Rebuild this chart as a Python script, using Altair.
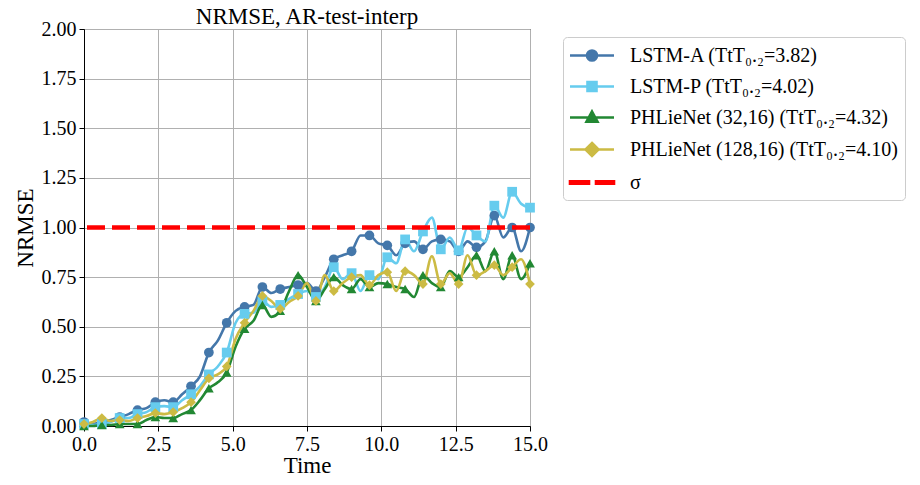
import altair as alt
import pandas as pd

# ---------------- data ----------------
times = [0.0, 0.3, 0.6, 0.9, 1.2, 1.5, 1.8, 2.1, 2.4, 2.7, 3.0, 3.3, 3.6, 3.9, 4.2, 4.5,
         4.8, 5.1, 5.4, 5.7, 6.0, 6.3, 6.6, 6.9, 7.2, 7.5, 7.8, 8.1, 8.4, 8.7, 9.0, 9.3,
         9.6, 9.9, 10.2, 10.5, 10.8, 11.1, 11.4, 11.7, 12.0, 12.3, 12.6, 12.9, 13.2,
         13.5, 13.8, 14.1, 14.4, 14.7, 15.0]

lstm_a = [0.02, 0.01, 0.02, 0.03, 0.045, 0.06, 0.08, 0.09, 0.12, 0.13, 0.12, 0.16, 0.20,
          0.25, 0.37, 0.43, 0.52, 0.58, 0.60, 0.61, 0.70, 0.67, 0.69, 0.70, 0.71, 0.72,
          0.68, 0.75, 0.84, 0.86, 0.88, 0.96, 0.96, 0.92, 0.91, 0.86, 0.92, 0.93, 0.89,
          0.93, 0.94, 0.93, 0.88, 0.93, 0.90, 0.93, 1.06, 0.95, 1.00, 0.88, 1.00]

lstm_p = [0.01, 0.005, 0.01, 0.02, 0.04, 0.04, 0.06, 0.07, 0.095, 0.10, 0.095, 0.13, 0.16,
          0.20, 0.26, 0.30, 0.37, 0.52, 0.565, 0.57, 0.63, 0.60, 0.61, 0.64, 0.665, 0.68,
          0.65, 0.70, 0.80, 0.74, 0.77, 0.68, 0.76, 0.74, 0.85, 0.82, 0.94, 0.88, 0.98,
          1.05, 0.89, 0.95, 0.885, 1.00, 0.96, 0.93, 1.11, 1.05, 1.18, 1.12, 1.10]

phlie_32 = [0.0, 0.0, 0.005, 0.005, 0.01, 0.01, 0.01, 0.03, 0.045, 0.04, 0.04, 0.06, 0.08,
            0.13, 0.19, 0.22, 0.27, 0.40, 0.49, 0.53, 0.61, 0.55, 0.58, 0.68, 0.76, 0.70,
            0.63, 0.69, 0.75, 0.71, 0.69, 0.74, 0.70, 0.72, 0.715, 0.70, 0.69, 0.65, 0.76,
            0.72, 0.70, 0.78, 0.75, 0.80, 0.86, 0.78, 0.88, 0.74, 0.86, 0.74, 0.82]

phlie_128 = [0.01, 0.02, 0.04, 0.025, 0.03, 0.025, 0.04, 0.05, 0.065, 0.06, 0.07, 0.09, 0.12,
             0.18, 0.24, 0.26, 0.30, 0.44, 0.52, 0.58, 0.655, 0.63, 0.59, 0.625, 0.655, 0.72,
             0.63, 0.76, 0.68, 0.72, 0.75, 0.76, 0.71, 0.76, 0.775, 0.68, 0.78, 0.76, 0.715,
             0.855, 0.715, 0.77, 0.715, 0.86, 0.76, 0.78, 0.81, 0.76, 0.80, 0.84, 0.715]

series_names = [
    "LSTM-A (TtT\u2080.\u2082=3.82)",
    "LSTM-P (TtT\u2080.\u2082=4.02)",
    "PHLieNet (32,16) (TtT\u2080.\u2082=4.32)",
    "PHLieNet (128,16) (TtT\u2080.\u2082=4.10)",
]
sigma_name = "\u03c3"
sigma_level = [1.0]

colors = ["#4477AA", "#66CCEE", "#228833", "#CCBB44"]
sigma_color = "#FF0000"
marker_shapes = ["circle", "square", "triangle-up", "diamond"]
marker_sizes = [95, 95, 115, 140]

# legend glyphs (10 px per unit): a 44 px line segment with the marker on top
legend_paths = [
    "M-1.15,0L3.25,0M1.55,0A0.5,0.5,0,1,1,0.55,0A0.5,0.5,0,1,1,1.55,0Z",
    "M-1.15,0L3.25,0M0.6,-0.45L1.5,-0.45L1.5,0.45L0.6,0.45Z",
    "M-1.15,0L3.25,0M1.05,-0.6L1.6,0.42L0.5,0.42Z",
    "M-1.15,0L3.25,0M1.05,-0.65L1.7,0L1.05,0.65L0.4,0Z",
    "M-1.15,-0.13L0.75,-0.13L0.75,0.13L-1.15,0.13ZM1.45,-0.13L3.25,-0.13L3.25,0.13L1.45,0.13Z",
]

# ---------------- tables ----------------
rows = []
for name, vals in zip(series_names, [lstm_a, lstm_p, phlie_32, phlie_128]):
    for i, (t, v) in enumerate(zip(times, vals)):
        rows.append({"t": t, "v": v, "series": name, "idx": i})
df = pd.DataFrame(rows)
sigma_df = pd.DataFrame({"v": sigma_level})
legend_df = pd.DataFrame({"series": series_names + [sigma_name]})

FONT = "Liberation Serif"

x_enc = alt.X("t:Q", title="Time",
              scale=alt.Scale(domain=[0, 15], nice=False, zero=False),
              axis=alt.Axis(values=[0, 2.5, 5, 7.5, 10, 12.5, 15], format=".1f"))
y_enc = alt.Y("v:Q", title="NRMSE",
              scale=alt.Scale(domain=[0, 2], nice=False),
              axis=alt.Axis(values=[0, 0.25, 0.5, 0.75, 1.0, 1.25, 1.5, 1.75, 2.0], format=".2f"))

color_enc = alt.Color("series:N", scale=alt.Scale(domain=series_names, range=colors), legend=None)

lines = alt.Chart(df).mark_line(strokeWidth=2.6, interpolate="monotone").encode(
    x=x_enc, y=y_enc, color=color_enc, order="t:Q"
)

points = alt.Chart(df).transform_filter("datum.idx % 2 == 0").mark_point(
    filled=True, opacity=1
).encode(
    x="t:Q", y="v:Q", color=color_enc,
    shape=alt.Shape("series:N", scale=alt.Scale(domain=series_names, range=marker_shapes), legend=None),
    size=alt.Size("series:N", scale=alt.Scale(domain=series_names, range=marker_sizes), legend=None),
)

sigma = alt.Chart(sigma_df).mark_rule(color=sigma_color, strokeWidth=4.5, strokeDash=[18, 7]).encode(
    y="v:Q"
)

all_names = series_names + [sigma_name]
all_colors = colors + [sigma_color]
legend_layer = alt.Chart(legend_df).mark_point(filled=True, opacity=0).encode(
    fill=alt.Fill("series:N", scale=alt.Scale(domain=all_names, range=all_colors), legend=None),
    stroke=alt.Stroke("series:N", scale=alt.Scale(domain=all_names, range=all_colors), legend=None),
    shape=alt.Shape("series:N", scale=alt.Scale(domain=all_names, range=legend_paths),
                    legend=alt.Legend(
                        title=None, orient="none", legendX=479, legendY=8,
                        symbolSize=400, symbolStrokeWidth=2.6, symbolOpacity=1,
                        labelFont=FONT, labelFontSize=20, labelColor="black",
                        labelOffset=37, rowPadding=9,
                        padding=7, strokeColor="#cccccc", cornerRadius=4,
                        fillColor="white", labelLimit=400,
                    )),
)

chart = alt.layer(lines, points, sigma, legend_layer).resolve_scale(
    shape="independent", fill="independent", stroke="independent", size="independent"
).properties(
    width=446, height=397,
    title=alt.Title("NRMSE, AR-test-interp", font=FONT, fontSize=23, fontWeight="normal",
                    color="black", offset=-10),
    autosize=alt.AutoSizeParams(type="none"),
    padding={"left": 76, "top": 21, "right": 382, "bottom": 50},
).configure_title(
    font=FONT, fontSize=23, fontWeight="normal", color="black"
).configure_view(
    stroke="black", strokeWidth=1
).configure_axis(
    labelFont=FONT, labelFontSize=20, labelColor="black", labelFlush=False,
    titleFont=FONT, titleFontSize=23, titleFontWeight="normal", titleColor="black",
    domainColor="black", tickColor="black", tickSize=5, labelPadding=3,
    gridColor="#b0b0b0", gridWidth=1,
).configure_axisX(titlePadding=0).configure_axisY(titlePadding=4)

chart.save("out.html", embed_options={"renderer": "svg", "actions": False})
